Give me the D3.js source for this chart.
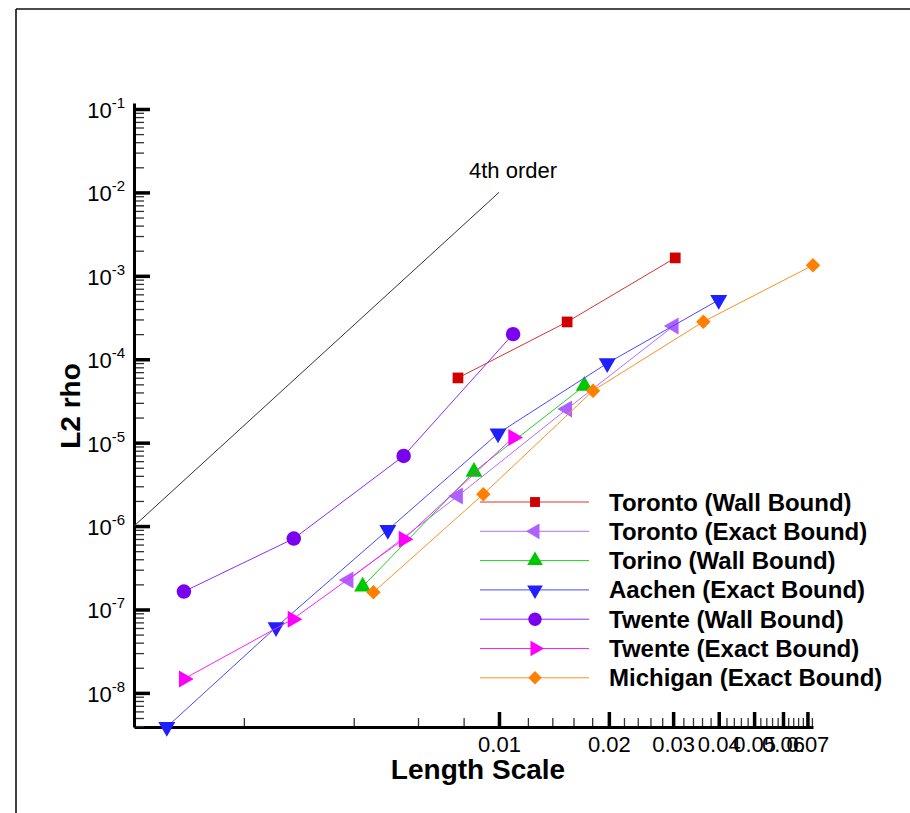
<!DOCTYPE html>
<html lang="en">
<head>
  <meta charset="UTF-8">
  <title>L2 rho vs Length Scale</title>
  <script src="https://d3js.org/d3.v7.min.js"></script>
  <style>
    body {
      margin: 0;
      background-color: #ffffff;
      font-family: "Liberation Sans", Arial, sans-serif;
    }
    svg {
      display: block;
    }
    svg text {
      font-family: "Liberation Sans", Arial, sans-serif;
    }
    .tick-label {
      font-size: 22px;
      fill: #000;
    }
    .axis-title {
      font-size: 28px;
      font-weight: bold;
    }
    .legend-label {
      font-size: 24px;
      font-weight: bold;
    }
  </style>
</head>
<body>
  <svg id="chart"></svg>
  <script>
    // Data (length scale vs L2 norm of rho error)
    const seriesNames = [
      "Toronto (Wall Bound)",
      "Toronto (Exact Bound)",
      "Torino (Wall Bound)",
      "Aachen (Exact Bound)",
      "Twente (Wall Bound)",
      "Twente (Exact Bound)",
      "Michigan (Exact Bound)"
    ];

    const torontoWallL = [0.00772, 0.01537, 0.0304];
    const torontoWallRho = [5.97e-5, 2.80e-4, 1.64e-3];

    const torontoExactL = [0.00387, 0.00772, 0.01537, 0.0301];
    const torontoExactRho = [2.26e-7, 2.30e-6, 2.54e-5, 2.51e-4];

    const torinoWallL = [0.00423, 0.00854, 0.01713];
    const torinoWallRho = [1.88e-7, 4.46e-6, 4.79e-5];

    const aachenExactL = [0.00123, 0.00245, 0.00496, 0.00994, 0.0198, 0.0400];
    const aachenExactRho = [3.9e-9, 6.13e-8, 9.0e-7, 1.29e-5, 8.95e-5, 5.14e-4];

    const twenteWallL = [0.00137, 0.00274, 0.00548, 0.01093];
    const twenteWallRho = [1.64e-7, 7.08e-7, 6.93e-6, 2.0e-4];

    const twenteExactL = [0.00137, 0.00272, 0.00548, 0.01094];
    const twenteExactRho = [1.47e-8, 7.64e-8, 6.95e-7, 1.15e-5];

    const michiganExactL = [0.00453, 0.00906, 0.0181, 0.0363, 0.0725];
    const michiganExactRho = [1.61e-7, 2.41e-6, 4.20e-5, 2.82e-4, 1.34e-3];

    // reference 4th order slope line
    const orderLineL = [0.001, 0.01];
    const orderLineRho = [1e-6, 1e-2];

    // axis ticks
    const xMajorTicks = [0.01, 0.02, 0.03, 0.04, 0.05, 0.06, 0.07];
    const yMajorTicks = [1e-8, 1e-7, 1e-6, 1e-5, 1e-4, 1e-3, 1e-2, 1e-1];

    const width = 910, height = 813;
    const xDomain = [0.001, 0.0725];
    const yDomain = [3.9e-9, 0.118];

    const svg = d3.select("#chart")
      .attr("width", width)
      .attr("height", height);

    // frame lines (top and left)
    svg.append("line")
      .attr("x1", 16).attr("y1", 9).attr("x2", width).attr("y2", 9)
      .attr("stroke", "#111").attr("stroke-width", 1.6);
    svg.append("line")
      .attr("x1", 16).attr("y1", 9).attr("x2", 16).attr("y2", height)
      .attr("stroke", "#111").attr("stroke-width", 1.6);

    const x = d3.scaleLog().domain(xDomain).range([134, 813]);
    const y = d3.scaleLog().domain(yDomain).range([727, 103]);

    // minor ticks
    const xMinorTicks = [];
    for (let v = 2; v <= 8; v += 2) xMinorTicks.push(v / 1000);
    for (let v = 10; v <= 72; v += 2) {
      if (v % 10 !== 0) xMinorTicks.push(v / 1000);
    }
    const yMinorTicks = [];
    for (let e = -9; e <= -1; e++) {
      for (let k = 2; k <= 9; k++) {
        const v = k * Math.pow(10, e);
        if (v >= yDomain[0] && v <= yDomain[1]) yMinorTicks.push(v);
      }
    }

    // X axis
    const xMinor = svg.append("g")
      .attr("transform", "translate(0,727)")
      .call(d3.axisBottom(x).tickValues(xMinorTicks).tickFormat("")
        .tickSizeInner(-9).tickSizeOuter(0));
    xMinor.select(".domain").remove();
    xMinor.selectAll(".tick line").attr("stroke-width", 1.3).attr("stroke", "#333");

    const xAxis = svg.append("g")
      .attr("transform", "translate(0,727)")
      .call(d3.axisBottom(x).tickValues(xMajorTicks).tickFormat(d3.format(".2f"))
        .tickSizeInner(-15).tickSizeOuter(0).tickPadding(9));
    xAxis.attr("font-family", null).attr("font-size", null);
    xAxis.select(".domain").attr("stroke-width", 3).attr("stroke", "#000");
    xAxis.selectAll(".tick line").attr("stroke-width", 3.5);
    xAxis.selectAll(".tick text").attr("class", "tick-label");

    // Y axis
    const yMinor = svg.append("g")
      .attr("transform", "translate(134,0)")
      .call(d3.axisLeft(y).tickValues(yMinorTicks).tickFormat("")
        .tickSizeInner(-10).tickSizeOuter(0));
    yMinor.select(".domain").remove();
    yMinor.selectAll(".tick line").attr("stroke-width", 1.3).attr("stroke", "#333");

    const yAxis = svg.append("g")
      .attr("transform", "translate(134,0)")
      .call(d3.axisLeft(y).tickValues(yMajorTicks)
        .tickSizeInner(-16).tickSizeOuter(0).tickPadding(9));
    yAxis.attr("font-family", null).attr("font-size", null);
    yAxis.select(".domain").attr("stroke-width", 3).attr("stroke", "#000");
    yAxis.selectAll(".tick line").attr("stroke-width", 3.5);
    yAxis.selectAll(".tick text")
      .attr("class", "tick-label")
      .attr("dy", "0.38em")
      .each(function(d) {
        const t = d3.select(this);
        t.text(null);
        t.append("tspan").text("10");
        t.append("tspan")
          .attr("dy", -10)
          .attr("font-size", 15)
          .text(String(Math.round(Math.log10(d))));
      });

    // Axis titles
    svg.append("text")
      .attr("class", "axis-title")
      .attr("x", 478).attr("y", 779)
      .attr("text-anchor", "middle")
      .text("Length Scale");

    svg.append("text")
      .attr("class", "axis-title")
      .attr("transform", "translate(80,406) rotate(-90)")
      .attr("text-anchor", "middle")
      .text("L2 rho");

    // 4th order line
    const line = d3.line().x(d => x(d[0])).y(d => y(d[1]));
    svg.append("path")
      .datum(d3.zip(orderLineL, orderLineRho))
      .attr("d", line)
      .attr("fill", "none")
      .attr("stroke", "#333")
      .attr("stroke-width", 1);
    svg.append("text")
      .attr("x", x(orderLineL[1]) + 14)
      .attr("y", y(orderLineRho[1]) - 14)
      .attr("text-anchor", "middle")
      .attr("font-size", 22)
      .text("4th order");

    // series definitions
    const triangle = d3.symbolTriangle;
    const series = [
      { name: seriesNames[0], L: torontoWallL, rho: torontoWallRho,
        color: "#d00000", line: "#e03030", shape: d3.symbolSquare, size: 115, rot: 0 },
      { name: seriesNames[1], L: torontoExactL, rho: torontoExactRho,
        color: "#b060ff", line: "#b070ff", shape: triangle, size: 125, rot: -90 },
      { name: seriesNames[2], L: torinoWallL, rho: torinoWallRho,
        color: "#00c800", line: "#20d020", shape: triangle, size: 125, rot: 0 },
      { name: seriesNames[3], L: aachenExactL, rho: aachenExactRho,
        color: "#2020ff", line: "#4848ff", shape: triangle, size: 125, rot: 180 },
      { name: seriesNames[4], L: twenteWallL, rho: twenteWallRho,
        color: "#7a00f0", line: "#8c2cf8", shape: d3.symbolCircle, size: 165, rot: 0 },
      { name: seriesNames[5], L: twenteExactL, rho: twenteExactRho,
        color: "#ff00ff", line: "#ff20ff", shape: triangle, size: 125, rot: 90 },
      { name: seriesNames[6], L: michiganExactL, rho: michiganExactRho,
        color: "#ff8000", line: "#ff9020", shape: d3.symbolSquare, size: 105, rot: 45 }
    ];

    series.forEach(s => {
      const pts = d3.zip(s.L, s.rho);
      const g = svg.append("g");
      g.append("path")
        .datum(pts)
        .attr("d", line)
        .attr("fill", "none")
        .attr("stroke", s.line)
        .attr("stroke-width", 1);
      g.selectAll("path.marker")
        .data(pts)
        .join("path")
        .attr("class", "marker")
        .attr("d", d3.symbol().type(s.shape).size(s.size))
        .attr("transform", d => `translate(${x(d[0])},${y(d[1])}) rotate(${s.rot})`)
        .attr("fill", s.color);
    });

    // legend
    const legend = svg.append("g").attr("transform", "translate(480,502)");
    series.forEach((s, i) => {
      const row = legend.append("g").attr("transform", `translate(0,${i * 29.3})`);
      row.append("line")
        .attr("x1", 0).attr("x2", 109)
        .attr("stroke", s.line).attr("stroke-width", 1);
      row.append("path")
        .attr("d", d3.symbol().type(s.shape).size(s.size * 0.85))
        .attr("transform", `translate(55,0) rotate(${s.rot})`)
        .attr("fill", s.color);
      row.append("text")
        .attr("class", "legend-label")
        .attr("x", 129).attr("y", 8.5)
        .text(s.name);
    });
  </script>
</body>
</html>
